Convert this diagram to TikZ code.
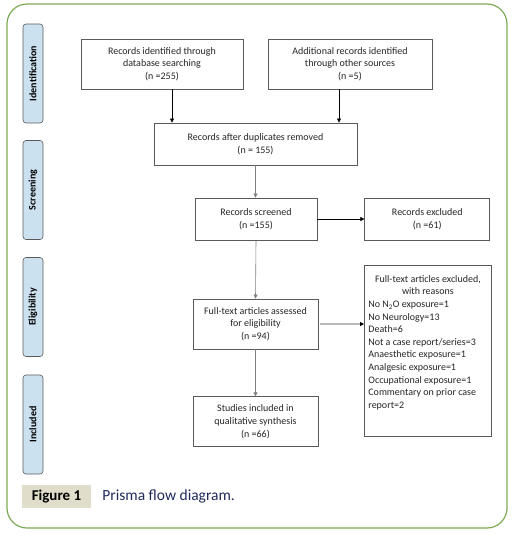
\documentclass[tikz,border=0pt]{standalone}
\usepackage{fontspec}
\setmainfont{Carlito}
\usetikzlibrary{positioning, arrows.meta, calc}

\definecolor{framegreen}{HTML}{7DAA55}
\definecolor{stageblue}{HTML}{CCE1F0}
\definecolor{capbeige}{HTML}{E0DECA}
\definecolor{capblue}{HTML}{1F2A5C}
\definecolor{boxgray}{HTML}{5A5A5A}

\tikzset{
    flowbox/.style={draw=boxgray, fill=white, line width=0.8pt, align=center, text=black!85, inner sep=2pt, font=\fontsize{10}{12.6}\selectfont},
    stage/.style={draw=gray!70!black, fill=stageblue, rounded corners=3pt, rotate=90, minimum width=99pt, minimum height=20pt, line width=0.6pt, font=\fontsize{10}{12}\selectfont\bfseries},
    flow/.style={-{Triangle[length=4pt, width=4pt]}, line width=0.6pt},
}

\begin{document}
\begin{tikzpicture}[x=1pt, y=-1pt]
                        \useasboundingbox (0,0) rectangle (513,536);
                        \draw[framegreen, line width=1.2pt, rounded corners=20pt] (7,4) rectangle (507,528);

                        \node[stage] (ident) at (33,73.5) {Identification};
                        \node[stage] (screening) at (33,190) {Screening};
                        \node[stage] (elig) at (33,307) {Eligibility};
                        \node[stage] (included) at (33,424.5) {Included};

                        \node[flowbox, minimum width=162pt, minimum height=50pt] (db) at (162,64) {Records identified through\\database searching\\(n =255)};
                        \node[flowbox, minimum width=164pt, minimum height=50pt] (other) at (350,64) {Additional records identified\\through other sources\\(n =5)};
                        \node[flowbox, minimum width=203pt, minimum height=42pt] (dedup) at (255.5,144) {Records after duplicates removed\\(n = 155)};
                        \node[flowbox, minimum width=122pt, minimum height=42pt] (screen) at (256,219) {Records screened\\(n =155)};
                        \node[flowbox, minimum width=125pt, minimum height=42pt, right=47pt of screen] (excl) {Records excluded\\(n =61)};
                        \node[flowbox, minimum width=125pt, minimum height=50pt] (full) at (255.5,324) {Full-text articles assessed\\for eligibility\\(n =94)};
                        \node[flowbox, minimum width=125pt, minimum height=50pt, below=47pt of full] (incl) {Studies included in\\qualitative synthesis\\(n =66)};
                        \node[flowbox, anchor=north west, inner xsep=4pt, inner ysep=0pt] (reasons) at (364,265) {\parbox[t][171pt][t]{119pt}{\vspace*{10pt}{\centering Full-text articles excluded,\\with reasons\par}\raggedright No N\textsubscript{2}O exposure=1\\No Neurology=13\\Death=6\\Not a case report/series=3\\Anaesthetic exposure=1\\Analgesic exposure=1\\Occupational exposure=1\\Commentary on prior case\\report=2}};

                        \draw[flow] ([xshift=10pt]db.south) -- ([xshift=10pt]db.south |- dedup.north);
                        \draw[flow] ([xshift=-11pt]other.south) -- ([xshift=-11pt]other.south |- dedup.north);
                        \draw[flow, gray] (dedup.south) -- (dedup.south |- screen.north);
                        \draw[flow] (screen) -- (excl);
                        \draw[flow, gray] (screen.south) -- (full.north);
                        \draw[-{Triangle[length=4pt, width=4pt, color=black]}, gray!55, line width=1.2pt] ([xshift=2pt]full.east) -- (full.east -| reasons.west);
                        \draw[flow, gray] (full.south) -- (incl.north);

                        \node[fill=capbeige, minimum width=69pt, minimum height=23pt, font=\fontsize{15}{18}\selectfont\bfseries] (figlabel) at (56.5,496.5) {Figure 1};
                        \node[right=11pt of figlabel, inner sep=0pt, text=capblue, font=\fontsize{15.5}{18}\selectfont] (caption) {Prisma flow diagram.};
                    \end{tikzpicture}
\end{document}
